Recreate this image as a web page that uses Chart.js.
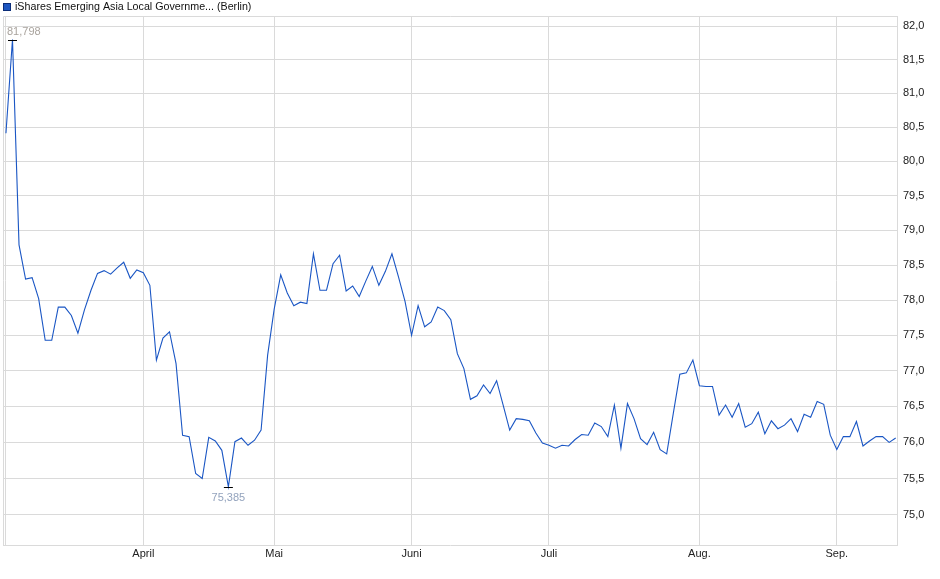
<!DOCTYPE html>
<html>
<head>
<meta charset="utf-8">
<script src="https://cdn.jsdelivr.net/npm/chart.js@4"></script>
<style>
  html, body { margin: 0; padding: 0; background: #ffffff; }
  #wrap { width: 940px; height: 579px; }
</style>
</head>
<body>
<div id="wrap"><canvas id="c" width="940" height="579"></canvas></div>
<script>
const seriesName = 'iShares Emerging Asia Local Governme... (Berlin)';

// daily closes, one per trading day (index 0 = first day shown, early March)
const values = [
  80.41, 81.798, 78.79, 78.30, 78.32, 78.02, 77.43, 77.43, 77.90, 77.90,
  77.78, 77.53, 77.86, 78.14, 78.38, 78.42, 78.37, 78.46, 78.54, 78.31,
  78.43, 78.39, 78.21, 77.15, 77.46, 77.55, 77.10, 76.10, 76.08, 75.57,
  75.50, 76.07, 76.02, 75.89, 75.385, 76.01, 76.06, 75.96, 76.03, 76.17,
  77.22, 77.87, 78.36, 78.10, 77.92, 77.97, 77.95, 78.66, 78.14, 78.14,
  78.52, 78.64, 78.13, 78.20, 78.05, 78.27, 78.48, 78.21, 78.41, 78.66,
  78.33, 77.98, 77.50, 77.92, 77.62, 77.69, 77.90, 77.85, 77.72, 77.24,
  77.03, 76.60, 76.65, 76.80, 76.68, 76.86, 76.52, 76.17, 76.33, 76.32,
  76.30, 76.13, 75.99, 75.96, 75.92, 75.96, 75.95, 76.04, 76.11, 76.10,
  76.27, 76.22, 76.08, 76.52, 75.92, 76.54, 76.33, 76.05, 75.97, 76.14,
  75.90, 75.84, 76.40, 76.95, 76.97, 77.15, 76.79, 76.78, 76.78, 76.38,
  76.52, 76.35, 76.54, 76.21, 76.26, 76.42, 76.12, 76.30, 76.19, 76.24,
  76.33, 76.15, 76.39, 76.35, 76.57, 76.53, 76.10, 75.90, 76.08, 76.08,
  76.29, 75.95, 76.02, 76.08, 76.08, 76.00, 76.06
];

// month boundaries (index of first trading day) and their labels
const monthStarts = [0, 21, 41, 62, 83, 106, 127];
const monthLabels = ['', 'April', 'Mai', 'Juni', 'Juli', 'Aug.', 'Sep.'];

// y-axis tick values
const yTicks = [75.0, 75.5, 76.0, 76.5, 77.0, 77.5, 78.0, 78.5, 79.0, 79.5, 80.0, 80.5, 81.0, 81.5, 82.0];

const LINE = '#1a56c4';
const GRID = '#dadada';
const FONT = '"Liberation Sans", Arial, sans-serif';

function fmt(v, d) { return v.toFixed(d).replace('.', ','); }

const extrasPlugin = {
  id: 'extras',
  afterDraw(chart) {
    const ctx = chart.ctx;
    const a = chart.chartArea;
    const xs = chart.scales.x, ys = chart.scales.y;
    ctx.save();
    // top & left border of the plot box
    ctx.strokeStyle = GRID;
    ctx.lineWidth = 1;
    ctx.beginPath();
    ctx.moveTo(Math.round(a.left) + 0.5, Math.round(a.bottom));
    ctx.lineTo(Math.round(a.left) + 0.5, Math.round(a.top) + 0.5);
    ctx.lineTo(Math.round(a.right), Math.round(a.top) + 0.5);
    ctx.stroke();

    // max / min markers
    let iMax = 0, iMin = 0;
    values.forEach((v, i) => { if (v > values[iMax]) iMax = i; if (v < values[iMin]) iMin = i; });
    ctx.font = '11px ' + FONT;
    ctx.textBaseline = 'middle';
    const mark = (i, color, above) => {
      const px = xs.getPixelForValue(i);
      const py = Math.round(ys.getPixelForValue(values[i])) + 0.5;
      ctx.strokeStyle = '#000';
      ctx.beginPath();
      ctx.moveTo(px - 4.5, py);
      ctx.lineTo(px + 4.5, py);
      ctx.stroke();
      const txt = fmt(values[i], 3);
      const w = ctx.measureText(txt).width;
      let lx = px - w / 2;
      if (lx < a.left + 4) lx = a.left + 4;
      ctx.fillStyle = color;
      ctx.textAlign = 'left';
      ctx.fillText(txt, lx, above ? py - 9 : py + 10);
    };
    mark(iMax, '#a9a39d', true);
    mark(iMin, '#93a3bd', false);

    // legend
    ctx.fillStyle = '#1d56c0';
    ctx.fillRect(3, 3, 8, 8);
    ctx.strokeStyle = '#0b2d78';
    ctx.strokeRect(3.5, 3.5, 7, 7);
    ctx.fillStyle = '#111';
    ctx.textAlign = 'left';
    ctx.textBaseline = 'middle';
    ctx.font = '10.7px ' + FONT;
    ctx.fillText(seriesName, 15, 7.5);
    ctx.restore();
  }
};

new Chart(document.getElementById('c'), {
  type: 'line',
  data: {
    datasets: [{
      label: seriesName,
      data: values.map((v, i) => ({ x: i, y: v })),
      borderColor: LINE,
      backgroundColor: LINE,
      borderWidth: 1.1,
      pointRadius: 0,
      tension: 0,
      fill: false
    }]
  },
  options: {
    responsive: false,
    animation: false,
    devicePixelRatio: 1,
    layout: { padding: { left: 3, top: 16, right: 0, bottom: 0 } },
    plugins: { legend: { display: false }, title: { display: false }, tooltip: { enabled: false } },
    scales: {
      x: {
        type: 'linear',
        min: -0.45,
        max: 136.2,
        afterBuildTicks(s) { s.ticks = monthStarts.map(v => ({ value: v })); },
        afterFit(s) { s.height = 34; },
        grid: { color: GRID, drawTicks: false },
        border: { color: GRID },
        ticks: {
          autoSkip: false, maxRotation: 0, padding: 2,
          color: '#222', font: { family: FONT, size: 11 },
          callback(v) { const k = monthStarts.indexOf(v); return k >= 0 ? monthLabels[k] : ''; }
        }
      },
      y: {
        type: 'logarithmic',
        position: 'right',
        min: 74.59,
        max: 82.15,
        afterBuildTicks(s) { s.ticks = yTicks.map(v => ({ value: v })); },
        afterFit(s) { s.width = 43; },
        grid: { color: GRID, drawTicks: false },
        border: { color: GRID },
        ticks: {
          autoSkip: false, padding: 6,
          color: '#222', font: { family: FONT, size: 11 },
          callback(v) { return fmt(Number(v), 1); }
        }
      }
    }
  },
  plugins: [extrasPlugin]
});
</script>
</body>
</html>
